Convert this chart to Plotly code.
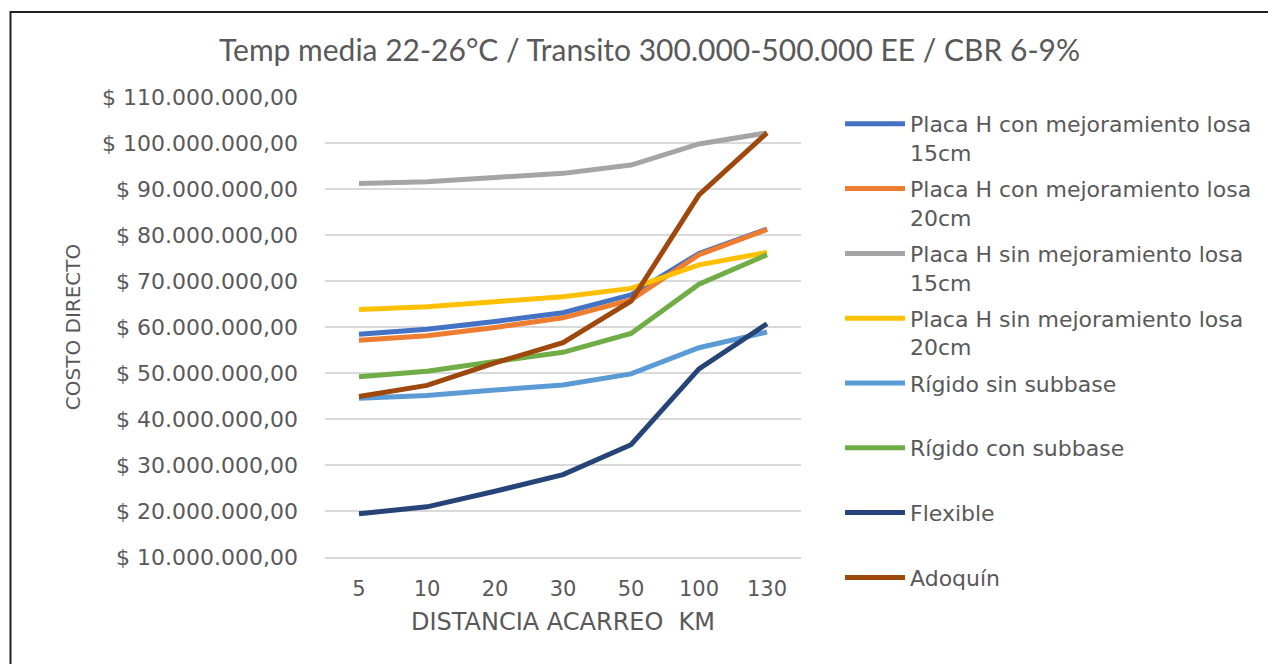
import plotly.graph_objects as go

distancias = ["5", "10", "20", "30", "50", "100", "130"]

placa_con_15 = [58.4e6, 59.5e6, 61.2e6, 63.1e6, 67.0e6, 76.0e6, 81.3e6]
placa_con_20 = [57.1e6, 58.1e6, 59.9e6, 62.0e6, 65.9e6, 75.7e6, 81.2e6]
placa_sin_15 = [91.2e6, 91.6e6, 92.5e6, 93.4e6, 95.2e6, 99.8e6, 102.2e6]
placa_sin_20 = [63.8e6, 64.4e6, 65.5e6, 66.6e6, 68.4e6, 73.5e6, 76.2e6]
rigido_sin = [44.5e6, 45.1e6, 46.3e6, 47.4e6, 49.8e6, 55.5e6, 58.9e6]
rigido_con = [49.2e6, 50.4e6, 52.5e6, 54.5e6, 58.6e6, 69.3e6, 75.7e6]
flexible = [19.4e6, 20.9e6, 24.3e6, 27.9e6, 34.4e6, 50.9e6, 60.7e6]
adoquin = [44.9e6, 47.3e6, 52.2e6, 56.6e6, 65.6e6, 88.7e6, 102.2e6]

series = [
    ("Placa H con mejoramiento losa<br>15cm", placa_con_15, "#4472C4"),
    ("Placa H con mejoramiento losa<br>20cm", placa_con_20, "#ED7D31"),
    ("Placa H sin mejoramiento losa<br>15cm", placa_sin_15, "#A5A5A5"),
    ("Placa H sin mejoramiento losa<br>20cm", placa_sin_20, "#FFC000"),
    ("Rígido sin subbase<br>\u00a0", rigido_sin, "#5B9BD5"),
    ("Rígido con subbase<br>\u00a0", rigido_con, "#70AD47"),
    ("Flexible<br>\u00a0", flexible, "#264478"),
    ("Adoquín<br>\u00a0", adoquin, "#9E480E"),
]

fig = go.Figure()
for i, (name, vals, color) in enumerate(series):
    fig.add_trace(go.Scatter(
        x=distancias, y=vals, mode="lines", name=name,
        line=dict(color=color, width=5),
        legendgroup=f"g{i}",
    ))

# page body has an 8px offset; work in screen pixels and subtract it
OFF = 8
W, H = 1276 - OFF, 664 - OFF
L, R, T, B = 325 - OFF, 801 - OFF, 97 - OFF, 557 - OFF

fig.update_layout(
    width=W, height=H,
    margin=dict(l=L, r=W - R, t=T, b=H - B, autoexpand=False),
    paper_bgcolor="white", plot_bgcolor="white",
    separators=",.",
    title=dict(
        text="Temp media 22-26°C / Transito 300.000-500.000 EE / CBR 6-9%",
        x=(649.5 - OFF) / W, xanchor="center", xref="container",
        y=1 - (50 - OFF) / H, yanchor="middle",
        font=dict(family="Lato", size=30, color="#595959"),
    ),
    font=dict(family="DejaVu Sans", color="#595959"),
    showlegend=True,
    legend=dict(
        x=(840 - OFF - L) / (R - L), xanchor="left",
        y=(B - (103 - OFF)) / (B - T), yanchor="top",
        font=dict(family="DejaVu Sans", size=22, color="#595959"),
        valign="top",
        tracegroupgap=4.6,
        itemwidth=60,
        maxheight=900,
        bgcolor="rgba(0,0,0,0)",
    ),
    xaxis=dict(
        type="category",
        range=[-0.5, 6.5],
        showgrid=False,
        showline=True, linecolor="#d9d9d9", linewidth=2,
        ticks="",
        tickfont=dict(family="DejaVu Sans", size=21, color="#595959"),
        ticklabelstandoff=12,
        title=dict(text="DISTANCIA ACARREO  KM", standoff=13,
                   font=dict(family="DejaVu Sans", size=24, color="#595959")),
    ),
    yaxis=dict(
        range=[10e6, 110e6],
        dtick=10e6, tick0=10e6,
        showgrid=True, gridcolor="#d9d9d9", gridwidth=2,
        zeroline=False, showline=False,
        tickprefix="$ ", tickformat=",.2f",
        tickfont=dict(family="DejaVu Sans", size=22, color="#595959"),
        ticklabelstandoff=26,
        title=dict(text="COSTO DIRECTO", standoff=16,
                   font=dict(family="DejaVu Sans", size=20, color="#595959")),
    ),
)

fig.add_shape(
    type="rect", xref="paper", yref="paper",
    x0=(10.5 - OFF - L) / (R - L), x1=(1290 - OFF - L) / (R - L),
    y0=(B - (690 - OFF)) / (B - T), y1=(B - (12 - OFF)) / (B - T),
    line=dict(color="#222222", width=2), fillcolor="rgba(0,0,0,0)",
    layer="above",
)

fig.write_html("out.html")
